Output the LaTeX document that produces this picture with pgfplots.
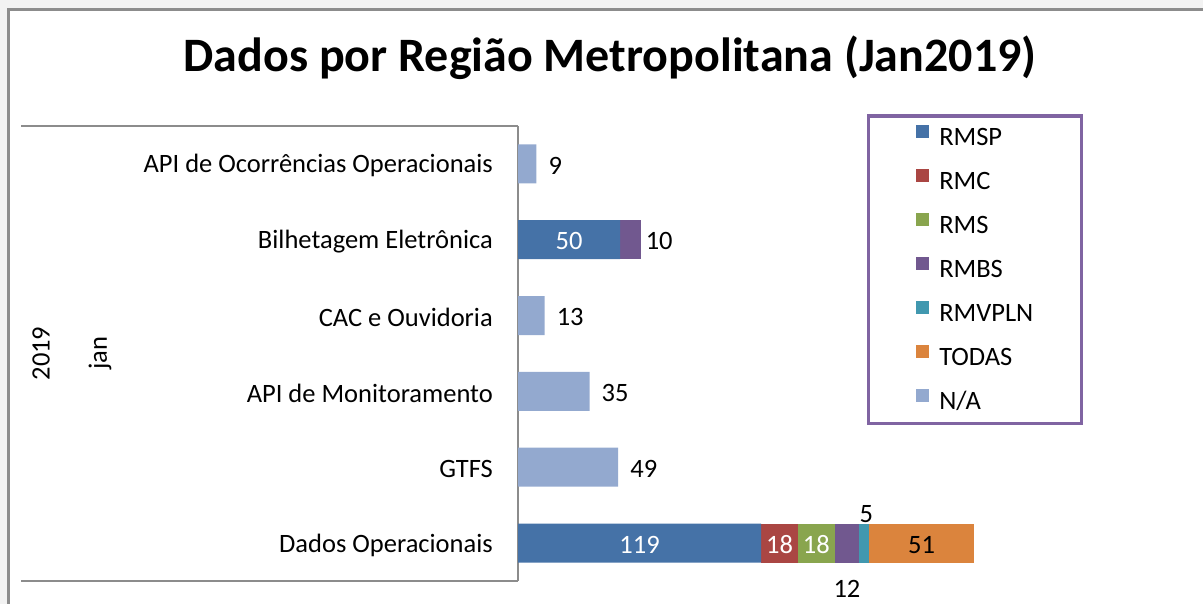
\documentclass[border=0pt]{standalone}
\usepackage{pgfplots}
\pgfplotsset{compat=1.18}
\usepackage{fontspec}
\setmainfont{Carlito}
\definecolor{cRMSP}{HTML}{4572A7}
\definecolor{cRMC}{HTML}{AA4643}
\definecolor{cRMS}{HTML}{89A54E}
\definecolor{cRMBS}{HTML}{71588F}
\definecolor{cRMVPLN}{HTML}{4198AF}
\definecolor{cTODAS}{HTML}{DB843D}
\definecolor{cNA}{HTML}{93A9CF}
\definecolor{legborder}{HTML}{8064A2}
\definecolor{framegray}{HTML}{8C8C8C}
\newcommand{\lblfont}{\fontsize{26.5}{31}\selectfont}
\begin{document}
\begin{tikzpicture}[x=1pt,y=1pt]
\useasboundingbox (0,0) rectangle (1203,604);
\fill[black!5] (0,594) rectangle (1203,604);
\fill[black!5] (0,0) rectangle (8,594);
\draw[framegray, line width=3pt] (8,0) -- (8,594) -- (1203,594);
\node[font=\fontsize{48}{57}\selectfont\bfseries] at (610,546) {Dados por Região Metropolitana (Jan2019)};
\begin{axis}[
  at={(518pt,23pt)}, anchor=south west,
  scale only axis, width=540pt, height=455pt,
  xbar stacked, bar width=39pt,
  xmin=0, xmax=264.3,
  ymin=-0.5, ymax=5.5,
  ytick={0,1,2,3,4,5},
  yticklabels={Dados Operacionais, GTFS, API de Monitoramento, CAC e Ouvidoria, Bilhetagem Eletrônica, API de Ocorrências Operacionais},
  xtick=\empty,
  axis x line=none,
  axis y line*=left,
  y axis line style={-, framegray, line width=1.2pt},
  major tick length=0pt,
  yticklabel style={font=\lblfont, anchor=east, inner sep=0pt, xshift=-25pt, yshift=-2pt},
  /pgf/number format/assume math mode=true,
  point meta=rawx,
  visualization depends on=rawx \as \rawxv,
  nodes near coords={\pgfmathfloatifflags{\pgfplotspointmeta}{0}{}{\pgfmathprintnumber{\pgfplotspointmeta}}},
  legend style={at={(0.6454,1.0253)}, anchor=north west, draw=legborder, line width=3.5pt,
    inner xsep=48pt, inner ysep=9pt, row sep=18.5pt, font=\lblfont,
    nodes={inner sep=0pt, text height=17pt, text depth=5pt},
    /tikz/every odd column/.append style={column sep=10pt}},
  legend image code/.code={\fill[#1] (0pt,1.5pt) rectangle (13pt,14.5pt);},
  legend cell align=left,
]
\addplot[fill=cRMSP, draw=none,
  every node near coord/.style={font=\lblfont, inner sep=0pt, text=white, anchor=center, yshift=-1.5pt}]
  coordinates {(119,0) (0,1) (0,2) (0,3) (50,4) (0,5)};
\addlegendentry{RMSP}
\addplot[fill=cRMC, draw=none,
  every node near coord/.style={font=\lblfont, inner sep=0pt, text=white, anchor=center, yshift=-1.5pt}]
  coordinates {(18,0) (0,1) (0,2) (0,3) (0,4) (0,5)};
\addlegendentry{RMC}
\addplot[fill=cRMS, draw=none,
  every node near coord/.style={font=\lblfont, inner sep=0pt, text=white, anchor=center, yshift=-1.5pt}]
  coordinates {(18,0) (0,1) (0,2) (0,3) (0,4) (0,5)};
\addlegendentry{RMS}
\addplot[fill=cRMBS, draw=none,
  every node near coord/.style={font=\lblfont, inner sep=0pt, text=black, anchor=center, yshift=-46pt}]
  coordinates {(12,0) (0,1) (0,2) (0,3) (0,4) (0,5)};
\addlegendentry{RMBS}
\addplot[fill=cRMBS, draw=none, forget plot,
  every node near coord/.style={font=\lblfont, inner sep=0pt, text=black, anchor=west, shift={(axis direction cs:\rawxv/2,0)}, xshift=5pt, yshift=-1.5pt}]
  coordinates {(0,0) (0,1) (0,2) (0,3) (10,4) (0,5)};
\addplot[fill=cRMVPLN, draw=none,
  every node near coord/.style={font=\lblfont, inner sep=0pt, text=black, anchor=center, xshift=2pt, yshift=29pt}]
  coordinates {(5,0) (0,1) (0,2) (0,3) (0,4) (0,5)};
\addlegendentry{RMVPLN}
\addplot[fill=cTODAS, draw=none,
  every node near coord/.style={font=\lblfont, inner sep=0pt, text=black, anchor=center, yshift=-1.5pt}]
  coordinates {(51,0) (0,1) (0,2) (0,3) (0,4) (0,5)};
\addlegendentry{TODAS}
\addplot[fill=cNA, draw=none,
  every node near coord/.style={font=\lblfont, inner sep=0pt, text=black, anchor=west, shift={(axis direction cs:\rawxv/2,0)}, xshift=12pt, yshift=-1.5pt}]
  coordinates {(0,0) (49,1) (35,2) (13,3) (0,4) (9,5)};
\addlegendentry{N/A}
\end{axis}
\draw[framegray, line width=1.2pt] (21,478) -- (518,478);
\draw[framegray, line width=1.2pt] (21,23) -- (518,23);
\node[rotate=90, font=\lblfont] at (41,250.5) {2019};
\node[rotate=90, font=\lblfont] at (100,250.5) {jan};
\end{tikzpicture}
\end{document}
